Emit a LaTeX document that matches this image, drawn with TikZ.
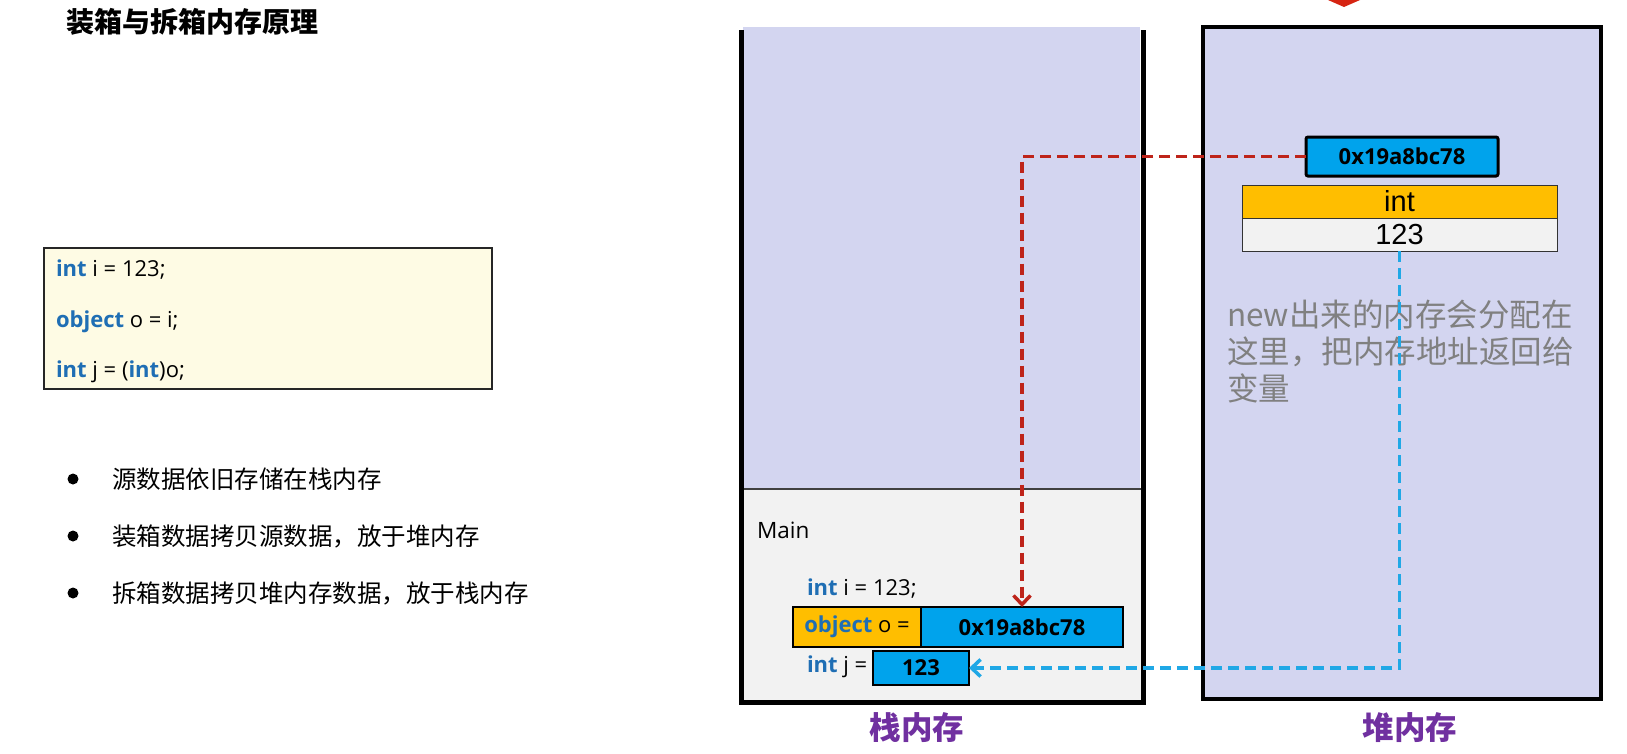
\documentclass[tikz,border=0pt]{standalone}
\usepackage{fontspec}
\setmainfont{Open Sans}
\newfontfamily\cjk{Noto Sans CJK SC}
\newfontfamily\arialf{Liberation Sans}
\usetikzlibrary{arrows.meta}
\definecolor{lav}{RGB}{211,213,240}
\definecolor{panelgray}{RGB}{242,242,242}
\definecolor{codefill}{RGB}{254,251,228}
\definecolor{boxblue}{RGB}{0,163,236}
\definecolor{boxorange}{RGB}{255,190,0}
\definecolor{kwblue}{RGB}{31,110,180}
\definecolor{reddash}{RGB}{190,36,26}
\definecolor{bluedash}{RGB}{32,168,230}
\definecolor{labpurple}{RGB}{112,48,160}
\definecolor{notegray}{RGB}{128,128,128}
\definecolor{topred}{RGB}{214,36,18}
\newcommand\kwd[1]{{\bfseries\color{kwblue}#1}}
\newcommand\codefont{\fontsize{22}{26}\selectfont}
\begin{document}
\begin{tikzpicture}[x=1pt,y=-1pt,
  plain/.style={inner sep=0pt, outer sep=0pt},
  codeline/.style={plain, anchor=base west, font=\codefont},
  bluebox/.style={plain, fill=boxblue, draw=black, line width=2.5pt, font=\codefont\bfseries},
  heapcell/.style={plain, draw=black!80, line width=1pt, minimum width=315pt, minimum height=33pt, font=\arialf\fontsize{29}{30}\selectfont},
  memlabel/.style={plain, text=labpurple, font=\cjk\bfseries\fontsize{31.5}{34}\selectfont},
  bulletitem/.style={plain, anchor=west, font=\cjk\fontsize{24.5}{28}\selectfont},
  dot/.style={circle, fill=black, inner sep=0pt, minimum size=11pt},
  redline/.style={draw=reddash, line width=3.5pt, dash pattern=on 11pt off 6pt, -{Straight Barb[length=9pt,width=17pt,line width=3.5pt]}},
  blueline/.style={draw=bluedash, line width=3.5pt, dash pattern=on 11pt off 6pt, -{Straight Barb[length=9pt,width=17pt,line width=3.5pt]}}
]
\useasboundingbox (0,0) rectangle (1627,753);
\fill[white] (0,0) rectangle (1627,753);

% title
\node[plain, anchor=west, font=\cjk\bfseries\fontsize{28}{30}\selectfont] (title) at (66,22) {装箱与拆箱内存原理};

% code box
\node[draw=black!85, line width=1.5pt, fill=codefill, minimum width=448pt, minimum height=141pt, anchor=north west, inner sep=0pt] (code) at (43,247) {};
\node[codeline] (c1) at (56,276) {\kwd{int} i = 123;};
\node[codeline] (c2) at (56,327) {\kwd{object} o = i;};
\node[codeline] (c3) at (56,377) {\kwd{int} j = (\kwd{int})o;};

% bullets
\node[dot] (d1) at (73,479) {};
\node[dot] (d2) at (73,536) {};
\node[dot] (d3) at (73,593) {};
\node[bulletitem] (b1) at (112,479) {源数据依旧存储在栈内存};
\node[bulletitem] (b2) at (112,536) {装箱数据拷贝源数据，放于堆内存};
\node[bulletitem] (b3) at (112,593) {拆箱数据拷贝堆内存数据，放于栈内存};

% stack
\fill[lav] (743,27) rectangle (1140,489);
\fill[panelgray] (743,489) rectangle (1141,701);
\draw[black!75, line width=1.2pt] (743,489) -- (1141,489);
\draw[black, line width=5pt] (741,30) -- (741,702) -- (1143,702) -- (1143,30);

\node[plain, anchor=base west, font=\fontsize{22.5}{26}\selectfont] (mainlbl) at (757,538) {Main};
\node[codeline] (si) at (807,595) {\kwd{int} i = 123;};
\node[plain, fill=boxorange, draw=black, line width=2.5pt, minimum width=128pt, minimum height=40pt, font=\codefont] (objlbl) at (857,627) {\kwd{object}\ o =};
\node[bluebox, minimum width=202pt, minimum height=40pt] (objval) at (1022,627) {0x19a8bc78};
\node[codeline] (sj) at (807,672) {\kwd{int} j =};
\node[bluebox, minimum width=96pt, minimum height=34pt] (jval) at (921,668) {123};

% heap
\draw[black, line width=3.5pt, fill=lav] (1203,27) rectangle (1601,699);
\node[bluebox, line width=3pt, rounded corners=2pt, minimum width=192pt, minimum height=39pt] (haddr) at (1402,156.5) {0x19a8bc78};
\node[heapcell, fill=boxorange] (htype) at (1399.5,201.5) {int};
\node[heapcell, fill=panelgray] (hval) at (1399.5,234.5) {123};
\node[plain, anchor=north west, align=left, text=notegray, font=\cjk\fontsize{31.5}{37}\selectfont] (note) at (1227,300) {new出来的内存会分配在\\这里，把内存地址返回给\\变量};

% red top marker
\fill[topred] (1328,0) -- (1360,0) -- (1344,7) -- cycle;

% connectors
\draw[redline] (haddr.west) -| (objval.north);
\draw[blueline] (hval.south) |- (jval.east);

% labels
\node[memlabel] (stacklbl) at (917,728) {栈内存};
\node[memlabel] (heaplbl) at (1410,728) {堆内存};
\end{tikzpicture}
\end{document}
